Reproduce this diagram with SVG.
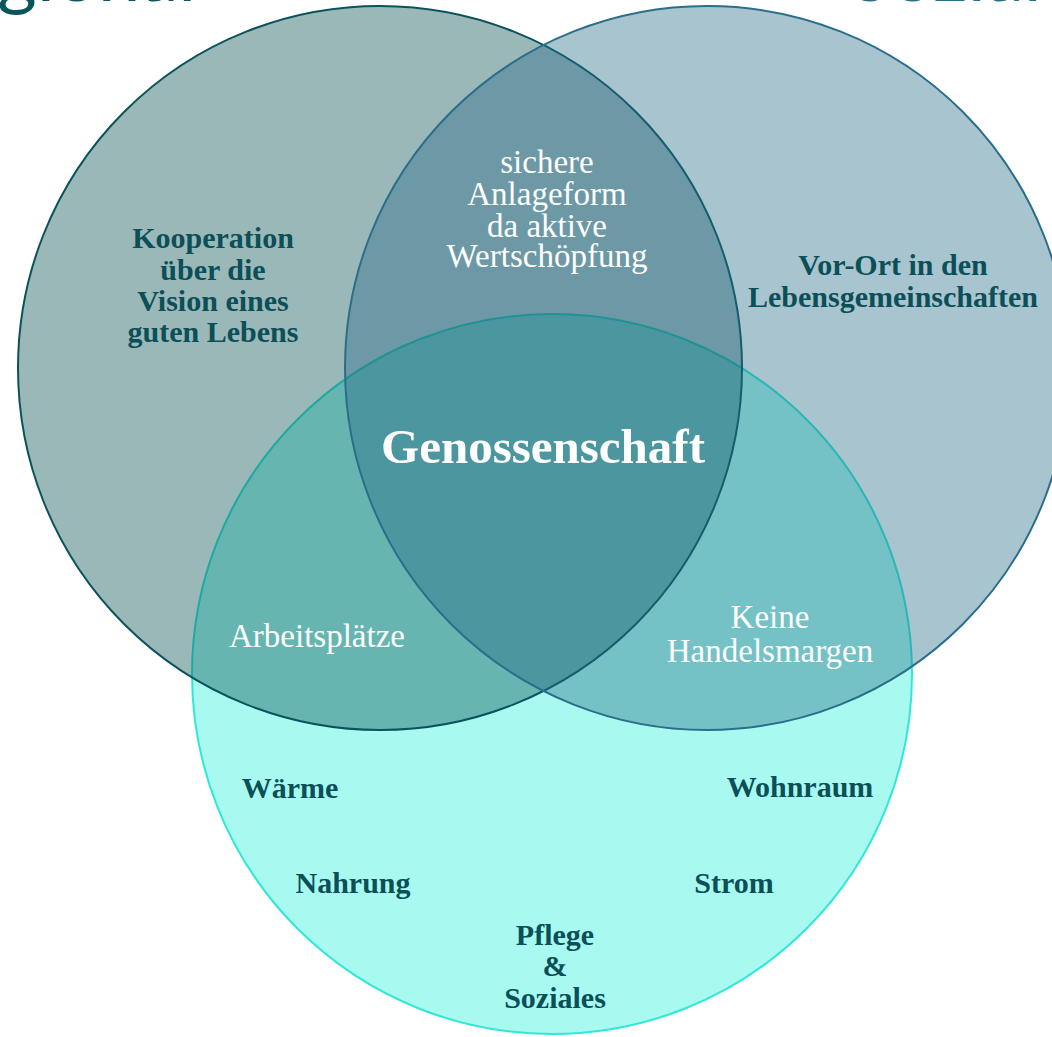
<svg xmlns="http://www.w3.org/2000/svg" width="1052" height="1037" viewBox="0 0 1052 1037">
  <style>
    .set { fill-opacity: 0.4; stroke-width: 2; }
    .title { font-family: Lato, "Noto Sans", "Liberation Sans", sans-serif; font-size: 76px; }
    .dark { font-family: "Liberation Serif", "DejaVu Serif", serif; font-size: 30px; font-weight: bold; fill: #0b4f58; text-anchor: middle; }
    .light { font-family: "Liberation Serif", "DejaVu Serif", serif; font-size: 33px; fill: #ffffff; text-anchor: middle; }
    .core { font-family: "Liberation Serif", "DejaVu Serif", serif; font-size: 49px; font-weight: bold; fill: #ffffff; text-anchor: middle; }
  </style>

  <rect width="1052" height="1037" fill="#ffffff"/>

  <!-- set titles, mostly above the top edge -->
  <g id="titles">
    <text class="title" x="-88" y="1" fill="#0b555f">Regional</text>
    <text class="title" x="850" y="1" fill="#2a6f86">Sozial</text>
  </g>

  <!-- the three overlapping sets -->
  <g id="sets">
    <circle id="set-bottom" class="set" cx="552" cy="674" r="360" fill="#26f2d9" stroke="#2fe8d6"/>
    <circle id="set-left" class="set" cx="380" cy="368" r="362" fill="#054e50" stroke="#0b535c"/>
    <circle id="set-right" class="set" cx="707" cy="368" r="362" fill="#266b87" stroke="#2b6e8a"/>
  </g>

  <g id="label-left">
    <text class="dark" x="213" y="248">Kooperation</text>
    <text class="dark" x="213" y="280">über die</text>
    <text class="dark" x="213" y="311">Vision eines</text>
    <text class="dark" x="213" y="342">guten Lebens</text>
  </g>

  <g id="label-right">
    <text class="dark" x="893" y="275">Vor-Ort in den</text>
    <text class="dark" x="893" y="307">Lebensgemeinschaften</text>
  </g>

  <g id="label-left-right">
    <text class="light" x="547" y="173">sichere</text>
    <text class="light" x="547" y="205">Anlageform</text>
    <text class="light" x="547" y="237">da aktive</text>
    <text class="light" x="547" y="267">Wertschöpfung</text>
  </g>

  <g id="label-center">
    <text class="core" x="543" y="463">Genossenschaft</text>
  </g>

  <g id="label-left-bottom">
    <text class="light" x="317" y="647">Arbeitsplätze</text>
  </g>

  <g id="label-right-bottom">
    <text class="light" x="770" y="628">Keine</text>
    <text class="light" x="770" y="662">Handelsmargen</text>
  </g>

  <g id="label-bottom">
    <text class="dark" x="290" y="798">Wärme</text>
    <text class="dark" x="353" y="893">Nahrung</text>
    <text class="dark" x="800" y="797">Wohnraum</text>
    <text class="dark" x="734" y="893">Strom</text>
    <text class="dark" x="555" y="945">Pflege</text>
    <text class="dark" x="555" y="976">&amp;</text>
    <text class="dark" x="555" y="1008">Soziales</text>
  </g>
</svg>
